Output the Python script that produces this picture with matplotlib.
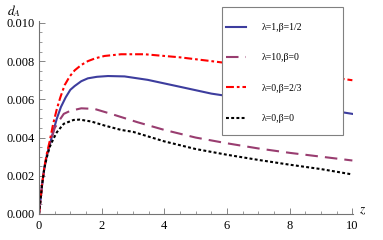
import matplotlib
matplotlib.use("Agg")
import matplotlib.pyplot as plt
from matplotlib.patches import Rectangle
from matplotlib.ticker import MultipleLocator, FormatStrFormatter

# values
z_blue = [0, 0.042, 0.096, 0.17, 0.255, 0.34, 0.45, 0.57, 0.7, 0.85, 1.0, 1.14, 1.35, 1.56, 1.85, 2.2,
          2.73, 3.47, 4.49, 5.5, 6.72, 8, 9, 10]
d_blue = [0, 0.00064, 0.0015, 0.0024, 0.0031, 0.0036, 0.0043, 0.0050, 0.0056, 0.0061, 0.0065, 0.0067,
          0.00695, 0.0071, 0.00718, 0.00722, 0.0072, 0.00702, 0.00666, 0.0063, 0.0060, 0.0057, 0.0055,
          0.00524]

z_purple = [0, 0.042, 0.096, 0.17, 0.255, 0.34, 0.5, 0.65, 0.79, 1.0, 1.35, 1.77, 2.3, 3.15, 4, 5, 6,
            7, 8, 9, 10]
d_purple = [0, 0.00064, 0.0015, 0.0024, 0.0031, 0.0036, 0.0045, 0.0049, 0.00524, 0.0054, 0.00553, 0.0055,
            0.00524, 0.0048, 0.0044, 0.0040, 0.0037, 0.00343, 0.0032, 0.0030, 0.0028]

z_red = [0, 0.042, 0.096, 0.17, 0.255, 0.34, 0.45, 0.57, 0.68, 0.82, 0.98, 1.14, 1.35, 1.56, 1.8, 2.09,
         2.62, 3.37, 4.49, 5.5, 6.72, 8, 9, 10]
d_red = [0, 0.00065, 0.00152, 0.00245, 0.0032, 0.0038, 0.0047, 0.0055, 0.0061, 0.00675, 0.0072, 0.00752,
         0.0078, 0.0080, 0.00815, 0.00827, 0.00836, 0.00836, 0.0082, 0.0080, 0.00775, 0.00746, 0.00723,
         0.0070]

z_black = [0, 0.042, 0.096, 0.17, 0.255, 0.34, 0.45, 0.57, 0.79, 1.1, 1.3, 1.67, 2.09, 2.62, 3, 4, 5,
           6, 7, 8, 9, 10]
d_black = [0, 0.00064, 0.0015, 0.0024, 0.0030, 0.0035, 0.0039, 0.00428, 0.00472, 0.00492, 0.00494,
           0.00484, 0.00463, 0.0044, 0.0043, 0.0038, 0.0034, 0.0031, 0.00283, 0.00258, 0.00235, 0.00207]

labels = ["λ=1,β=1/2", "λ=10,β=0", "λ=0,β=2/3", "λ=0,β=0"]

plt.rcParams['font.family'] = ['Liberation Serif', 'DejaVu Serif']
plt.rcParams['mathtext.fontset'] = 'stix'

fig = plt.figure(figsize=(3.83, 2.4), dpi=100)
ax = fig.add_axes([39/383, 1-214/240, 314/383, 193/240])

ax.plot(z_blue, d_blue, color='#3d3d9e', lw=1.5, label=labels[0])
ax.plot(z_purple, d_purple, color='#993d70', lw=1.5, dashes=(6, 3.4), label=labels[1])
ax.plot(z_red, d_red, color='#ff0000', lw=1.5, dashes=(3.8, 1.4, 1.3, 1.4), label=labels[2])
ax.plot(z_black, d_black, color='black', lw=1.5, dashes=(1.4, 1.1), label=labels[3])

ax.set_xlim(0, 10.02)
ax.set_ylim(0, 0.0101)
ax.spines['top'].set_visible(False)
ax.spines['right'].set_visible(False)
for s in ['left', 'bottom']:
    ax.spines[s].set_color('0.45')
    ax.spines[s].set_linewidth(0.8)

ax.xaxis.set_major_locator(MultipleLocator(2))
ax.xaxis.set_minor_locator(MultipleLocator(0.5))
ax.yaxis.set_major_locator(MultipleLocator(0.002))
ax.yaxis.set_minor_locator(MultipleLocator(0.0005))
ax.yaxis.set_major_formatter(FormatStrFormatter('%.3f'))
ax.tick_params(which='major', direction='in', length=4, width=0.6, color='0.45', labelsize=9)
ax.tick_params(which='minor', direction='in', length=2.2, width=0.5, color='0.45')
ax.tick_params(axis='x', pad=4)
ax.tick_params(axis='y', pad=3)

fig.text(14/383, 1-11/240, r'$d_A$', fontsize=9.5, ha='center', va='center')
fig.text(363/383, 1-211/240, r'$z$', fontsize=9.5, ha='center', va='center')

# legend box (wider than its contents, as in the original)
box = Rectangle((222/383, 1-135/240), 121/383, 128/240, transform=fig.transFigure, clip_on=False,
                facecolor='white', edgecolor='0.5', lw=0.8, zorder=5)
ax.add_patch(box)
leg = ax.legend(loc='upper left', bbox_to_anchor=(226/383, 1-23/240), bbox_transform=fig.transFigure,
                frameon=False, fontsize=7, handlelength=2.1, handletextpad=1.6, labelspacing=2.2,
                borderpad=0, borderaxespad=0)
leg.set_zorder(6)

fig.savefig('out.png', dpi=100)
